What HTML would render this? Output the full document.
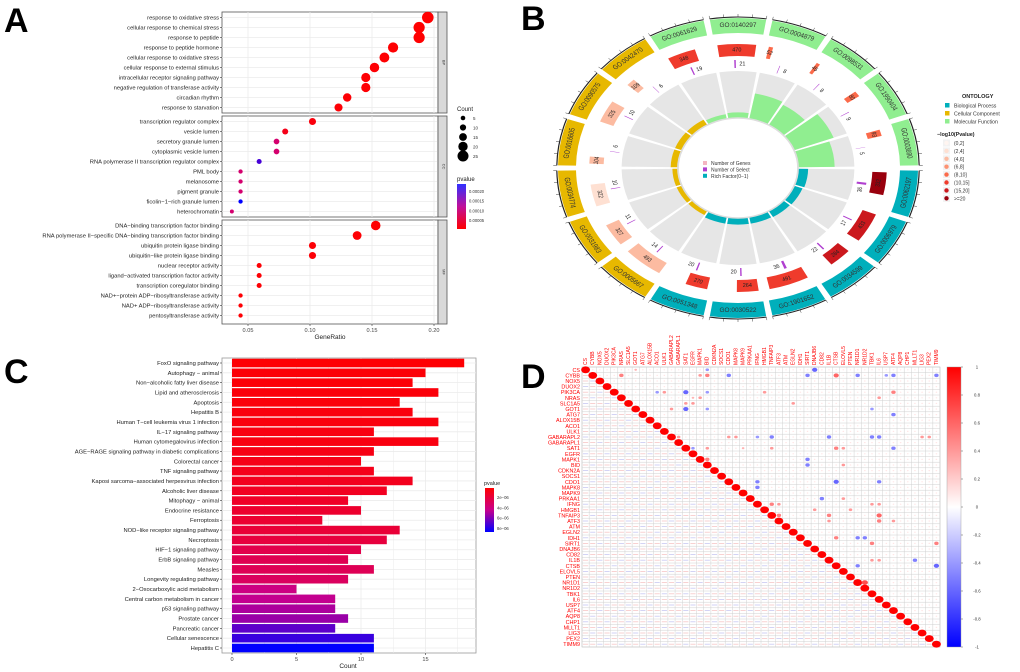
<!DOCTYPE html>
<html><head><meta charset="utf-8">
<style>
html,body{margin:0;padding:0;background:#fff;}
svg{display:block;font-family:"Liberation Sans",sans-serif;}
</style></head>
<body>
<svg id="fig" xmlns="http://www.w3.org/2000/svg" width="1020" height="672" viewBox="0 0 1020 672">
<text x="4" y="32" font-size="34" font-weight="bold">A</text>
<text x="521" y="30" font-size="34" font-weight="bold">B</text>
<text x="4" y="383" font-size="34" font-weight="bold">C</text>
<text x="521" y="388" font-size="34" font-weight="bold">D</text>
<g id="pa"></g>
<g id="pb"></g>
<g id="pc"></g>
<g id="pd"></g>
</svg>
<script>
// ---------- Panel A data ----------
const aTerms = ["response to oxidative stress","cellular response to chemical stress","response to peptide","response to peptide hormone","cellular response to oxidative stress","cellular response to external stimulus","intracellular receptor signaling pathway","negative regulation of transferase activity","circadian rhythm","response to starvation",
"transcription regulator complex","vesicle lumen","secretory granule lumen","cytoplasmic vesicle lumen","RNA polymerase II transcription regulator complex","PML body","melanosome","pigment granule","ficolin−1−rich granule lumen","heterochromatin",
"DNA−binding transcription factor binding","RNA polymerase II−specific DNA−binding transcription factor binding","ubiquitin protein ligase binding","ubiquitin−like protein ligase binding","nuclear receptor activity","ligand−activated transcription factor activity","transcription coregulator binding","NAD+−protein ADP−ribosyltransferase activity","NAD+ ADP−ribosyltransferase activity","pentosyltransferase activity"];
const aRatio = [0.195,0.188,0.188,0.167,0.160,0.152,0.145,0.145,0.130,0.123, 0.102,0.080,0.073,0.073,0.059,0.044,0.044,0.044,0.044,0.037, 0.153,0.138,0.102,0.102,0.059,0.059,0.059,0.044,0.044,0.044];
const aPval = [0.000001,0.000001,0.000001,0.000002,0.000002,0.000003,0.000003,0.000003,0.000004,0.000004, 0.00001,0.00002,0.00009,0.00009,0.00019,0.00009,0.00009,0.00009,0.00023,0.00009, 0.000002,0.000003,0.000006,0.000006,0.000004,0.000004,0.000004,0.000003,0.000003,0.000003];
const aFacets = ["BP","CC","MF"];
const aXTicks = [0.05,0.10,0.15,0.20];
const aXTickLabels = ["0.05","0.10","0.15","0.20"];
const aCountLegend = [5,10,15,20,25];
const aPLegend = ["0.00020","0.00015","0.00010","0.00005"];

// ---------- Panel C data ----------
const cTerms = ["FoxO signaling pathway","Autophagy − animal","Non−alcoholic fatty liver disease","Lipid and atherosclerosis","Apoptosis","Hepatitis B","Human T−cell leukemia virus 1 infection","IL−17 signaling pathway","Human cytomegalovirus infection","AGE−RAGE signaling pathway in diabetic complications","Colorectal cancer","TNF signaling pathway","Kaposi sarcoma−associated herpesvirus infection","Alcoholic liver disease","Mitophagy − animal","Endocrine resistance","Ferroptosis","NOD−like receptor signaling pathway","Necroptosis","HIF−1 signaling pathway","ErbB signaling pathway","Measles","Longevity regulating pathway","2−Oxocarboxylic acid metabolism","Central carbon metabolism in cancer","p53 signaling pathway","Prostate cancer","Pancreatic cancer","Cellular senescence","Hepatitis C"];
const cCount = [18,15,14,16,13,14,16,11,16,11,10,11,14,12,9,10,7,13,12,10,9,11,9,5,8,8,9,8,11,11];
const cPval = [0.1e-6,0.2e-6,0.2e-6,0.3e-6,0.3e-6,0.4e-6,0.4e-6,0.5e-6,0.5e-6,0.6e-6,0.7e-6,0.8e-6,0.9e-6,1.0e-6,1.2e-6,1.4e-6,1.5e-6,1.7e-6,1.9e-6,2.3e-6,2.5e-6,2.6e-6,2.9e-6,4.0e-6,4.4e-6,4.9e-6,5.3e-6,6.6e-6,7.4e-6,8.6e-6];
const cXTicks = [0,5,10,15];
const cPLegend = ["2e−06","4e−06","6e−06","8e−06"];

// ---------- Panel B data ----------
const bTerms = ["GO:0140297","GO:0004879","GO:0098531","GO:1990404","GO:0003690","GO:0062197","GO:0006979","GO:0034599","GO:1901652","GO:0030522","GO:0051348","GO:0005667","GO:0031983","GO:0034774","GO:0016605","GO:0090575","GO:0042470","GO:0061629"];
const bOnt = ["MF","MF","MF","MF","MF","BP","BP","BP","BP","BP","BP","CC","CC","CC","CC","CC","CC","MF"];
const bGenes = [470,52,45,80,93,332,433,284,491,264,270,493,327,322,104,325,109,348];
const bSelect = [21,8,8,9,5,36,17,22,36,20,20,14,11,10,6,10,6,19];
const bLogP = [12,9,9,9,9,22,17,18,13,13,13,5,5,3,5,5,5,12];
const bRich = [0.12,0.55,0.5,0.75,0.65,0.18,0.16,0.15,0.14,0.14,0.14,0.1,0.1,0.1,0.13,0.13,0.13,0.1];
const bLogPLegend = ["(0,2]","(2,4]","(4,6]","(6,8]","(8,10]","(10,15]","(15,20]",">=20"];

// ---------- Panel D data ----------
const dGenes = ["CS","CYBB","NOX5","DUOX2","PIK3CA","NRAS","SLC1A5","GOT1","ATG7","ALOX15B","ACO1","ULK1","GABARAPL2","GABARAPL1","SAT1","EGFR","MAPK1","BID","CDKN2A","SOCS1","CDO1","MAPK8","MAPK9","PRKAA1","IFNG","HMGB1","TNFAIP3","ATF3","ATM","EGLN2","IDH1","SIRT1","DNAJB6","CD82","IL1B","CTSB","ELOVL5","PTEN","NR1D1","NR1D2","TBK1","IL6","USP7","ATF4","AQP8","CHP1","MLLT1","LIG3","PEX2","TIMM9"];
const dRow = [0,0,0,1,1,1,1,1,1,1,1,1,1,4,4,4,4,4,4,5,5,5,6,6,6,7,7,7,7,8,12,12,12,12,12,12,12,12,12,12,14,14,14,14,14,14,14,16,16,17,17,20,20,20,21,23,23,24,24,24,24,25,25,26,26,26,27,27,27,30,30,30,31,31,34,34,34,35,35,38];
const dCol = [32,17,7,5,17,16,20,31,35,38,43,42,49,14,17,10,11,25,43,15,16,41,14,15,29,12,14,17,40,43,13,20,21,24,26,34,40,41,47,48,15,17,22,26,35,36,43,17,31,31,36,24,35,41,24,33,36,26,27,40,41,32,37,27,34,41,34,41,43,35,38,39,40,49,40,41,46,38,49,39];
const dVal = [-0.6,-0.4,0.3,0.5,0.5,0.4,-0.5,-0.5,0.6,-0.5,-0.5,-0.4,-0.5,-0.6,-0.4,-0.4,0.4,0.4,0.5,0.3,0.4,0.4,0.4,0.4,0.4,0.4,-0.6,-0.4,-0.4,-0.5,0.4,0.4,0.4,-0.4,-0.5,-0.5,-0.5,-0.5,0.4,0.4,-0.4,0.4,0.3,0.4,0.5,0.4,-0.5,0.5,-0.5,-0.5,0.4,-0.5,-0.6,-0.5,-0.5,-0.5,0.4,0.5,0.4,0.4,0.4,0.4,0.4,0.5,0.5,0.6,0.4,0.5,0.4,0.5,-0.5,-0.5,0.5,0.5,0.4,0.4,-0.5,-0.5,-0.6,0.7];
const dTicks = [1,0.8,0.6,0.4,0.2,0,-0.2,-0.4,-0.6,-0.8,-1];

const NS="http://www.w3.org/2000/svg";
function mk(parent,tag,attrs,txt){const e=document.createElementNS(NS,tag);for(const k in attrs)e.setAttribute(k,attrs[k]);if(txt!==undefined)e.textContent=txt;parent.appendChild(e);return e;}
function lerp(a,b,t){return Math.round(a+(b-a)*t);}
function rgb(c){return "rgb("+c[0]+","+c[1]+","+c[2]+")";}
function mix(c1,c2,t){t=Math.max(0,Math.min(1,t));return [lerp(c1[0],c2[0],t),lerp(c1[1],c2[1],t),lerp(c1[2],c2[2],t)];}
function pcol(t){
  if(t<0.5) return rgb(mix([255,0,0],[200,0,140],t*2));
  return rgb(mix([200,0,140],[0,0,255],(t-0.5)*2));
}

// ================= PANEL A =================
(function(){
const g=document.getElementById('pa');
const x0=222,x1=438;
const xs=v=>248+(v-0.05)*1240;
const facetTop=[12,116,220], facetBot=[113,217,324];
const rowY=i=>{const f=Math.floor(i/10);return facetTop[f]+5.5+(i%10)*10;};
for(let f=0;f<3;f++){
  const p=mk(g,'rect',{x:x0,y:facetTop[f],width:x1-x0,height:facetBot[f]-facetTop[f],fill:'#fff',stroke:'#555','stroke-width':0.8});
  
  
  aXTicks.forEach(v=>mk(g,'line',{x1:xs(v),x2:xs(v),y1:facetTop[f],y2:facetBot[f],stroke:'#ebebeb','stroke-width':0.8}));
  for(let i=f*10;i<f*10+10;i++) mk(g,'line',{x1:x0,x2:x1,y1:rowY(i),y2:rowY(i),stroke:'#ebebeb','stroke-width':0.8});
  const s=mk(g,'rect',{x:x1,y:facetTop[f],width:9,height:facetBot[f]-facetTop[f],fill:'#d9d9d9',stroke:'#555','stroke-width':0.8});
  
  
  const cy=(facetTop[f]+facetBot[f])/2;
  mk(g,'text',{x:x1+4.5,y:cy,'font-size':4,'text-anchor':'middle',transform:`rotate(90 ${x1+4.5} ${cy})`,fill:'#333'},aFacets[f]);
}
aTerms.forEach((t,i)=>{
  const y=rowY(i);
  const l=mk(g,'text',{x:x0-3,y:y+2,'font-size':5.8,'text-anchor':'end',fill:'#222'},t);
  
  
  mk(g,'line',{x1:x0-2,x2:x0,y1:y,y2:y,stroke:'#333','stroke-width':0.6});
  const c=mk(g,'circle',{cx:xs(aRatio[i]),cy:y,r:1.1+aRatio[i]*24,fill:pcol(aPval[i]/0.00023)});
  
  
});
aXTicks.forEach((v,i)=>{
  mk(g,'line',{x1:xs(v),x2:xs(v),y1:324,y2:326,stroke:'#333','stroke-width':0.6});
  mk(g,'text',{x:xs(v),y:332,'font-size':5.6,'text-anchor':'middle',fill:'#444'},aXTickLabels[i]);
});
const xt=mk(g,'text',{x:330,y:339,'font-size':6.5,'text-anchor':'middle',fill:'#222'},'GeneRatio');


mk(g,'text',{x:457,y:111,'font-size':6,fill:'#222'},'Count');
aCountLegend.forEach((c,i)=>{const y=118+i*9.5;mk(g,'circle',{cx:463,cy:y,r:1.5+c*0.16,fill:'#000'});mk(g,'text',{x:473,y:y+2,'font-size':4.5,fill:'#333'},String(c));});
mk(g,'text',{x:457,y:181,'font-size':6,fill:'#222'},'pvalue');
const gr=mk(g,'defs',{});const lg=mk(gr,'linearGradient',{id:'gA',x1:0,y1:0,x2:0,y2:1});
mk(lg,'stop',{offset:'0','stop-color':'#3030ff'});mk(lg,'stop',{offset:'0.5','stop-color':'#c0109a'});mk(lg,'stop',{offset:'1','stop-color':'#ff0000'});
const cb=mk(g,'rect',{x:457,y:184,width:9,height:45,fill:'url(#gA)'});


aPLegend.forEach((s,i)=>mk(g,'text',{x:469,y:193+i*9.7,'font-size':4.2,fill:'#333'},s));
})();

// ================= PANEL C =================
(function(){
const g=document.getElementById('pc');
const x0=222,x1=476,y0=358,y1=653;
const xs=v=>232+v*12.9;
const n=cTerms.length, pitch=(648-363)/(n-1);
const ys=i=>363+i*pitch;
const bg=mk(g,'rect',{x:x0,y:y0,width:x1-x0,height:y1-y0,fill:'#fff',stroke:'#999','stroke-width':0.8});


[0,2.5,5,7.5,10,12.5,15,17.5].forEach(v=>mk(g,'line',{x1:xs(v),x2:xs(v),y1:y0,y2:y1,stroke:'#ebebeb','stroke-width':v%5?0.5:0.8}));
cTerms.forEach((t,i)=>{
  const y=ys(i);
  mk(g,'line',{x1:x0,x2:x1,y1:y,y2:y,stroke:'#ebebeb','stroke-width':0.8});
  const l=mk(g,'text',{x:x0-3,y:y+2,'font-size':5.8,'text-anchor':'end',fill:'#222'},t);
  
  
  mk(g,'line',{x1:x0-2,x2:x0,y1:y,y2:y,stroke:'#333','stroke-width':0.6});
  const b=mk(g,'rect',{x:xs(0),y:y-4.3,width:xs(cCount[i])-xs(0),height:8.6,fill:pcol(cPval[i]/8.6e-6)});
  
  
});
cXTicks.forEach(v=>{mk(g,'line',{x1:xs(v),x2:xs(v),y1:y1,y2:y1+2,stroke:'#333','stroke-width':0.6});mk(g,'text',{x:xs(v),y:661,'font-size':5.6,'text-anchor':'middle',fill:'#444'},String(v));});
const xt=mk(g,'text',{x:348,y:668,'font-size':6.5,'text-anchor':'middle',fill:'#222'},'Count');


mk(g,'text',{x:484,y:485,'font-size':5.5,fill:'#222'},'pvalue');
const d=mk(g,'defs',{});const lg=mk(d,'linearGradient',{id:'gC',x1:0,y1:0,x2:0,y2:1});
mk(lg,'stop',{offset:'0','stop-color':'#ff0000'});mk(lg,'stop',{offset:'0.5','stop-color':'#c8008c'});mk(lg,'stop',{offset:'1','stop-color':'#0000ff'});
const cb=mk(g,'rect',{x:485,y:488,width:9,height:44,fill:'url(#gC)'});


cPLegend.forEach((s,i)=>mk(g,'text',{x:497,y:499+i*10.3,'font-size':4.2,fill:'#333'},s));
})();

// ================= PANEL B =================
(function(){
const g0=document.getElementById('pb');
const g=mk(g0,'g',{transform:'translate(738,168) scale(1.2,1)'});
const ontCol={BP:'#00AFBB',CC:'#E7B800',MF:'#90EE90'};
const lpCols=['#FFF5F0','#FEE0D2','#FCBBA1','#FC9272','#FB6A4A','#EF3B2C','#CB181D','#99000D'];
function lpBin(v){const e=[2,4,6,8,10,15,20];for(let i=0;i<e.length;i++)if(v<=e[i])return i;return 7;}
const P=(r,a)=>[r*Math.sin(a*Math.PI/180),-r*Math.cos(a*Math.PI/180)];
function arc(r1,r2,a1,a2){const la=(a2-a1)>180?1:0;const p1=P(r2,a1),p2=P(r2,a2),p3=P(r1,a2),p4=P(r1,a1);
return `M${p1[0]},${p1[1]} A${r2},${r2} 0 ${la} 1 ${p2[0]},${p2[1]} L${p3[0]},${p3[1]} A${r1},${r1} 0 ${la} 0 ${p4[0]},${p4[1]} Z`;}
const N=bTerms.length, step=360/N;
bTerms.forEach((t,i)=>{
  const a1=i*step-step/2+1, a2=i*step+step/2-1, am=i*step;
  const s=mk(g,'path',{d:arc(135,150,a1,a2),fill:ontCol[bOnt[i]]});
  
  
  mk(g,'path',{d:arc(150.5,151.5,a1,a2),fill:'#222'});
  for(let k=0;k<=4;k++){const a=a1+(a2-a1)*k/4;const p=P(151,a),q=P(154,a);mk(g,'line',{x1:p[0],y1:p[1],x2:q[0],y2:q[1],stroke:'#222','stroke-width':0.4});}
  const flip=(am>90&&am<270)?180:0;
  const tp=P(142.5,am);
  mk(g,'text',{x:0,y:0,'font-size':6.5,'text-anchor':'middle','dominant-baseline':'middle',fill:'#333',transform:`translate(${tp[0]},${tp[1]}) rotate(${am+flip}) scale(0.83,1)`},t);
  const span=(a2-a1-2)*bGenes[i]/500;
  const gb=mk(g,'path',{d:arc(112,124,a1+1,a1+1+span),fill:lpCols[lpBin(bLogP[i])]});
  
  
  const gp=P(118,a1+1+span/2);
  mk(g,'text',{x:0,y:0,'font-size':5.5,'text-anchor':'middle','dominant-baseline':'middle',fill:'#222',transform:`translate(${gp[0]},${gp[1]}) rotate(${am+flip}) scale(0.83,1)`},String(bGenes[i]));
  const ss=(a2-a1-2)*bSelect[i]/500;
  mk(g,'path',{d:arc(100,108,am-1-ss,am-1),fill:'#B040D0'});
  const sp=P(104,am+2);
  mk(g,'text',{x:0,y:0,'font-size':5.5,'text-anchor':'middle','dominant-baseline':'middle',fill:'#222',transform:`translate(${sp[0]},${sp[1]}) rotate(${am+flip}) scale(0.83,1)`},String(bSelect[i]));
  const b1=i*step-step/2+0.8, b2=i*step+step/2-0.8;
  mk(g,'path',{d:arc(50,97,b1,b2),fill:'#e6e6e6'});
  const rf=mk(g,'path',{d:arc(50,50+bRich[i]*47,b1,b2),fill:ontCol[bOnt[i]]});
  
  
});
mk(g,'circle',{cx:0,cy:0,r:50,fill:'none',stroke:'#ddd','stroke-width':1.5});
const cl=[['#F4B6C2','Number of Genes'],['#B040D0','Number of Select'],['#00AFBB','Rich Factor(0−1)']];
cl.forEach((c,i)=>{mk(g0,'rect',{x:703,y:161+i*6.4,width:4,height:4,fill:c[0]});mk(g0,'text',{x:711,y:165+i*6.4,'font-size':5,fill:'#333'},c[1]);});
mk(g0,'text',{x:962,y:98,'font-size':5.5,'font-weight':'bold',fill:'#222'},'ONTOLOGY');
[['BP','Biological Process'],['CC','Cellular Component'],['MF','Molecular Function']].forEach((o,i)=>{
  const r=mk(g0,'rect',{x:945,y:103+i*8,width:4.5,height:4.5,fill:ontCol[o[0]]});
  
  
  mk(g0,'text',{x:954,y:107.5+i*8,'font-size':5.2,fill:'#333'},o[1]);
});
mk(g0,'text',{x:937,y:136,'font-size':5.3,'font-weight':'bold',fill:'#222'},'−log10(Pvalue)');
bLogPLegend.forEach((s,i)=>{const y=143+i*7.9;mk(g0,'rect',{x:943,y:y-3.5,width:7,height:7,fill:'#f2f2f2'});mk(g0,'circle',{cx:946.5,cy:y,r:2.2,fill:lpCols[i]});mk(g0,'text',{x:954,y:y+2,'font-size':5,fill:'#333'},s);});
})();

// ================= PANEL D =================
(function(){
const g=document.getElementById('pd');
const n=dGenes.length;
const x0=582,x1=940,y0=367,y1=647;
const cw=(x1-x0)/n, ch=(y1-y0)/n;
const M=[];for(let i=0;i<n;i++){M.push(new Array(n).fill(0));M[i][i]=1;}
dRow.forEach((r,k)=>{M[r][dCol[k]]=dVal[k];M[dCol[k]][r]=dVal[k];});
mk(g,'rect',{x:x0,y:y0,width:x1-x0,height:y1-y0,fill:'#fff',stroke:'#bbb','stroke-width':0.6});
for(let i=0;i<=n;i++){mk(g,'line',{x1:x0+i*cw,x2:x0+i*cw,y1:y0,y2:y1,stroke:'#d0d0d0','stroke-width':0.5});mk(g,'line',{x1:x0,x2:x1,y1:y0+i*ch,y2:y0+i*ch,stroke:'#d0d0d0','stroke-width':0.5});}
function ccol(v){return v>=0?rgb(mix([255,255,255],[255,0,0],v)):rgb(mix([255,255,255],[0,0,255],-v));}
dGenes.forEach((gname,i)=>{
  const rl=mk(g,'text',{x:x0-2,y:y0+i*ch+ch*0.85,'font-size':5.4,'text-anchor':'end',fill:'#ff0000'},gname);
  
  
  const cx=x0+i*cw+cw*0.7;
  const cl=mk(g,'text',{x:cx,y:y0-2,'font-size':5,fill:'#ff0000',transform:`rotate(-90 ${cx} ${y0-2})`},gname);
  
  
  for(let j=i;j<n;j++){
    const v=M[i][j];
    const rr=Math.max(0.7,Math.abs(v)*Math.min(cw,ch)*0.72);
    const c=mk(g,'ellipse',{cx:x0+(j+0.5)*cw,cy:y0+(i+0.5)*ch,rx:rr*1.1,ry:rr*0.85,fill:ccol(v===0?0.15:v),opacity:v===0?0.7:1});
    
    
  }
  for(let j=0;j<i;j++){
    mk(g,'rect',{x:x0+j*cw+1,y:y0+(i+0.5)*ch-0.4,width:cw-2,height:0.8,fill:((i+j)%3)?'#f6c6c6':'#c8c8f2'});
  }
});
const d=mk(g,'defs',{});const lg=mk(d,'linearGradient',{id:'gD',x1:0,y1:0,x2:0,y2:1});
mk(lg,'stop',{offset:'0','stop-color':'#ff0000'});mk(lg,'stop',{offset:'0.5','stop-color':'#ffffff'});mk(lg,'stop',{offset:'1','stop-color':'#0000ff'});
const cb=mk(g,'rect',{x:947,y:y0,width:14,height:y1-y0,fill:'url(#gD)',stroke:'#999','stroke-width':0.4});


dTicks.forEach((v,i)=>{const y=y0+(1-v)/2*(y1-y0);mk(g,'line',{x1:961,x2:963,y1:y,y2:y,stroke:'#333','stroke-width':0.4});mk(g,'text',{x:977,y:y+1.5,'font-size':4.3,'text-anchor':'middle',fill:'#333'},String(v));});
})();
</script>
</body></html>
